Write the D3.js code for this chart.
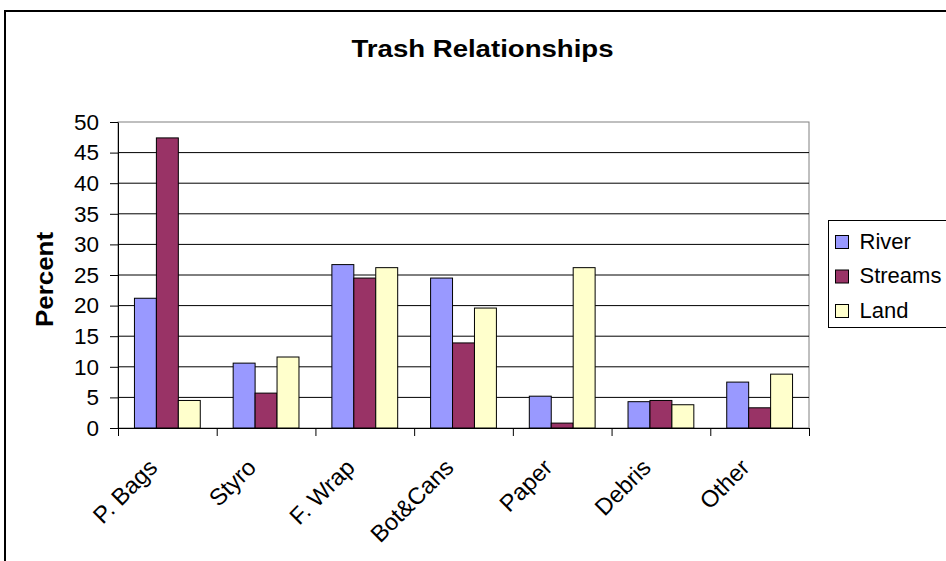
<!DOCTYPE html>
<html>
<head>
<meta charset="utf-8">
<script src="https://cdn.jsdelivr.net/npm/d3@7"></script>
<style>
  body { margin: 0; background: #fff; }
  text { font-family: Arial, 'Liberation Sans', sans-serif; fill: #000; }
</style>
</head>
<body>
<div id="chart-area"></div>
<script>
// Data
const categories = ['P. Bags', 'Styro', 'F. Wrap', 'Bot&Cans', 'Paper', 'Debris', 'Other'];
const seriesNames = ['River', 'Streams', 'Land'];
const river = [21.2, 10.6, 26.7, 24.5, 5.2, 4.3, 7.5];
const streams = [47.4, 5.7, 24.5, 13.9, 0.8, 4.5, 3.3];
const land = [4.5, 11.6, 26.2, 19.6, 26.2, 3.8, 8.8];
const yTicks = [0, 5, 10, 15, 20, 25, 30, 35, 40, 45, 50];
const seriesColors = ['#9999FF', '#993366', '#FFFFCC'];

const canvasWidth = 946;
const canvasHeight = 561;
const plot = { left: 118, top: 122, right: 809, bottom: 428 };

const svg = d3
  .select('#chart-area')
  .append('svg')
  .attr('width', canvasWidth)
  .attr('height', canvasHeight);

// Chart border (runs off the right and bottom)
svg
  .append('rect')
  .attr('x', 5)
  .attr('y', 11)
  .attr('width', 1000)
  .attr('height', 600)
  .attr('fill', '#fff')
  .attr('stroke', '#000')
  .attr('stroke-width', 2);

// Title
svg
  .append('text')
  .attr('x', 482.5)
  .attr('y', 57)
  .attr('text-anchor', 'middle')
  .attr('font-size', '23px')
  .attr('font-weight', 'bold')
  .attr('textLength', 262)
  .attr('lengthAdjust', 'spacingAndGlyphs')
  .text('Trash Relationships');

// Scales
const xScale = d3
  .scaleBand()
  .domain(categories)
  .range([plot.left, plot.right]);
const xSub = d3
  .scaleBand()
  .domain(seriesNames)
  .range([0, xScale.bandwidth()])
  .paddingOuter(0.75);
const xEdges = d3
  .scaleLinear()
  .domain([0, categories.length])
  .range([plot.left, plot.right]);
const yScale = d3
  .scaleLinear()
  .domain([0, 50])
  .range([plot.bottom, plot.top]);
const colorScale = d3.scaleOrdinal().domain(seriesNames).range(seriesColors);

// Plot area with grey frame
svg
  .append('rect')
  .attr('x', plot.left)
  .attr('y', plot.top)
  .attr('width', plot.right - plot.left)
  .attr('height', plot.bottom - plot.top)
  .attr('fill', '#fff')
  .attr('stroke', '#808080')
  .attr('stroke-width', 1);

// Gridlines
svg
  .append('g')
  .selectAll('line')
  .data(yTicks.filter(d => d > 0 && d < 50))
  .enter()
  .append('line')
  .attr('x1', plot.left)
  .attr('x2', plot.right)
  .attr('y1', d => yScale(d))
  .attr('y2', d => yScale(d))
  .attr('stroke', '#000')
  .attr('stroke-width', 1);

// Bars
const rows = categories.map((c, i) => ({
  category: c,
  values: [river[i], streams[i], land[i]].map((v, j) => ({ series: seriesNames[j], value: v }))
}));

const groups = svg
  .append('g')
  .selectAll('g')
  .data(rows)
  .enter()
  .append('g')
  .attr('transform', d => `translate(${xScale(d.category)},0)`);

groups
  .selectAll('rect')
  .data(d => d.values)
  .enter()
  .append('rect')
  .attr('x', d => xSub(d.series))
  .attr('y', d => yScale(d.value))
  .attr('width', xSub.bandwidth())
  .attr('height', d => yScale(0) - yScale(d.value))
  .attr('fill', d => colorScale(d.series))
  .attr('stroke', '#000')
  .attr('stroke-width', 1);

// Y-Axis
const yAxis = d3
  .axisLeft(yScale)
  .tickValues(yTicks)
  .tickSize(8)
  .tickSizeOuter(0)
  .tickPadding(11);
const yAxisGroup = svg
  .append('g')
  .attr('transform', `translate(${plot.left},0)`)
  .call(yAxis);
yAxisGroup.selectAll('text').attr('font-size', '22.5px').attr('font-family', null);
yAxisGroup.selectAll('line, path').attr('stroke', '#000');

// X-Axis (ticks on category edges)
const xAxis = d3
  .axisBottom(xEdges)
  .tickValues(d3.range(categories.length + 1))
  .tickSize(8)
  .tickSizeOuter(0)
  .tickFormat('');
const xAxisGroup = svg
  .append('g')
  .attr('transform', `translate(0,${plot.bottom})`)
  .call(xAxis);
xAxisGroup.selectAll('line, path').attr('stroke', '#000');

// Category labels
svg
  .append('g')
  .selectAll('text')
  .data(categories)
  .enter()
  .append('text')
  .attr('transform', d => `translate(${xScale(d) + xScale.bandwidth() / 2 - 8.5},469) rotate(-45)`)
  .attr('text-anchor', 'end')
  .attr('font-size', '23.5px')
  .text(d => d);

// Y-Axis-Label
svg
  .append('text')
  .attr('transform', 'translate(53,279.5) rotate(-90)')
  .attr('text-anchor', 'middle')
  .attr('font-size', '23px')
  .attr('font-weight', 'bold')
  .attr('textLength', 95)
  .attr('lengthAdjust', 'spacingAndGlyphs')
  .text('Percent');

// Legend
const legend = svg.append('g').attr('transform', 'translate(828.5,220.5)');

legend
  .append('rect')
  .attr('width', 200)
  .attr('height', 107)
  .attr('fill', '#fff')
  .attr('stroke', '#000')
  .attr('stroke-width', 1);

const legendRows = legend
  .selectAll('g')
  .data(seriesNames)
  .enter()
  .append('g')
  .attr('transform', (d, i) => `translate(0,${15 + i * 34.5})`);

legendRows
  .append('rect')
  .attr('x', 7)
  .attr('y', 0)
  .attr('width', 13)
  .attr('height', 13)
  .attr('fill', colorScale)
  .attr('stroke', '#000')
  .attr('stroke-width', 1);

legendRows
  .append('text')
  .attr('x', 31)
  .attr('y', 13)
  .attr('font-size', '22px')
  .text(d => d);
</script>
</body>
</html>
